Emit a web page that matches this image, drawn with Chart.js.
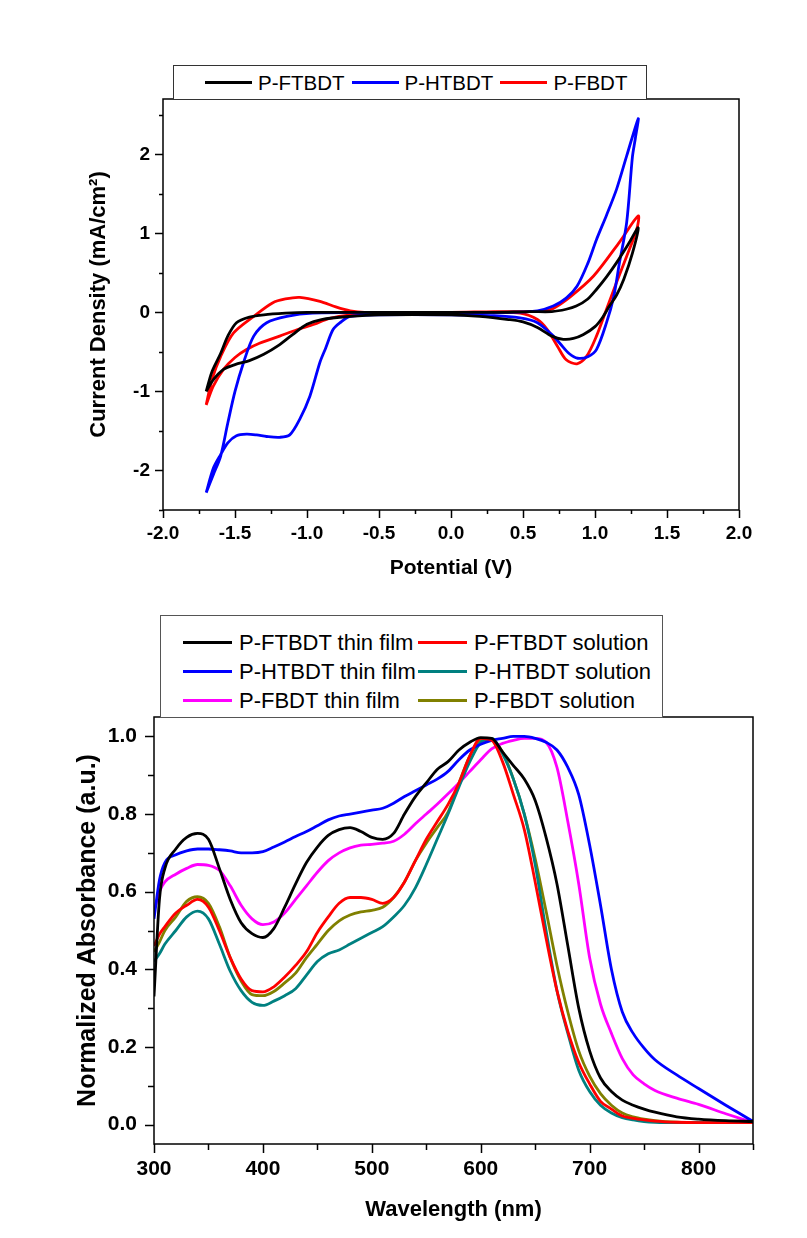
<!DOCTYPE html>
<html>
<head>
<meta charset="utf-8">
<script src="https://cdn.jsdelivr.net/npm/chart.js@4.4.1/dist/chart.umd.min.js"></script>
<style>
    body { margin: 0; background: #fff; font-family: 'Liberation Sans', Arial, sans-serif; }
    #wrap { position: relative; width: 807px; height: 1238px; overflow: hidden; }
    canvas { position: absolute; left: 0; }
    #cvChart { top: 0; }
    #absChart { top: 600px; }
    .legend { position: absolute; box-sizing: border-box; background: #fff; color: #000; z-index: 2; }
    #cvLegend { left: 173px; top: 65px; width: 474px; height: 35px; border: 1px solid #333;
        display: flex; align-items: center; padding-left: 31px; font-size: 20.5px; }
    #cvLegend .item { display: flex; align-items: center; margin-right: 7px; }
    #cvLegend .line { width: 47px; height: 3px; margin-right: 6px; }
    #absLegend { left: 160px; top: 615px; width: 503px; height: 103px; border: 1px solid #555;
        display: grid; grid-template-columns: 235px auto; grid-auto-rows: 29px;
        padding: 12px 0 0 22px; font-size: 22px; }
    #absLegend .item { display: flex; align-items: center; }
    #absLegend .line { width: 49px; height: 2.5px; margin-right: 7px; }
</style>
</head>
<body>
<div id="wrap">
    <canvas id="cvChart" width="807" height="600"></canvas>
    <canvas id="absChart" width="807" height="638"></canvas>
    <div id="cvLegend" class="legend"></div>
    <div id="absLegend" class="legend"></div>
</div>
<script>
// ---- cyclic voltammetry (closed loops, anodic branch then return branch)
const ftbdtV = [-1.70, -1.66, -1.60, -1.55, -1.49, -1.40, -1.30, -1.15, -1.00, -0.50, 0.00, 0.30, 0.55, 0.70, 0.80, 0.87, 0.95, 1.01, 1.08, 1.15, 1.24, 1.30,
    1.26, 1.20, 1.15, 1.10, 1.05, 1.00, 0.92, 0.85, 0.78, 0.70, 0.60, 0.50, 0.40, 0.20, 0.00, -0.50, -0.70, -0.90, -1.00, -1.10, -1.20, -1.30, -1.40, -1.50, -1.58, -1.65, -1.70];
const ftbdtI = [-1.00, -0.75, -0.52, -0.30, -0.13, -0.06, -0.03, -0.01, 0.00, 0.00, 0.00, 0.00, 0.01, 0.01, 0.04, 0.08, 0.17, 0.29, 0.45, 0.63, 0.89, 1.07,
    0.75, 0.42, 0.22, 0.08, -0.07, -0.18, -0.28, -0.33, -0.34, -0.30, -0.19, -0.12, -0.09, -0.05, -0.03, -0.03, -0.05, -0.09, -0.15, -0.28, -0.42, -0.53, -0.61, -0.66, -0.72, -0.85, -1.00];

const htbdtV = [-1.70, -1.65, -1.60, -1.55, -1.50, -1.44, -1.37, -1.28, -1.14, -0.96, -0.50, 0.00, 0.40, 0.60, 0.71, 0.80, 0.875, 0.95, 1.01, 1.08, 1.15, 1.22, 1.30,
    1.28, 1.26, 1.22, 1.17, 1.13, 1.08, 1.01, 0.95, 0.88, 0.82, 0.76, 0.70, 0.60, 0.48, 0.30, 0.00, -0.50, -0.70, -0.77, -0.82, -0.87, -0.91, -0.98, -1.05, -1.12, -1.19, -1.28, -1.35, -1.42, -1.49, -1.55, -1.60, -1.65, -1.70];
const htbdtI = [-2.28, -2.05, -1.82, -1.40, -1.00, -0.63, -0.30, -0.13, -0.05, -0.01, 0.00, 0.00, 0.00, 0.02, 0.08, 0.18, 0.33, 0.62, 0.92, 1.23, 1.56, 1.98, 2.45,
    2.20, 1.97, 1.14, 0.63, 0.20, -0.13, -0.47, -0.56, -0.58, -0.52, -0.40, -0.28, -0.13, -0.07, -0.04, -0.03, -0.03, -0.05, -0.13, -0.22, -0.45, -0.63, -1.06, -1.35, -1.55, -1.58, -1.57, -1.55, -1.54, -1.56, -1.65, -1.80, -1.97, -2.28];

const fbdtV = [-1.70, -1.66, -1.60, -1.51, -1.37, -1.24, -1.15, -1.05, -0.91, -0.80, -0.70, -0.60, 0.00, 0.30, 0.55, 0.65, 0.71, 0.83, 0.99, 1.17, 1.30,
    1.29, 1.22, 1.15, 1.08, 1.01, 0.94, 0.875, 0.80, 0.74, 0.67, 0.60, 0.48, 0.30, 0.00, -0.50, -0.70, -0.85, -0.95, -1.07, -1.19, -1.33, -1.42, -1.50, -1.58, -1.65, -1.70];
const fbdtI = [-1.17, -0.85, -0.56, -0.26, -0.05, 0.12, 0.17, 0.19, 0.14, 0.07, 0.02, 0.00, 0.00, 0.01, 0.01, 0.02, 0.05, 0.20, 0.46, 0.89, 1.22,
    1.05, 0.71, 0.38, 0.04, -0.30, -0.56, -0.65, -0.60, -0.43, -0.22, -0.09, -0.01, 0.00, 0.00, -0.01, -0.03, -0.08, -0.15, -0.22, -0.30, -0.39, -0.47, -0.57, -0.72, -0.93, -1.17];

const cvXTicks = [-2.0, -1.5, -1.0, -0.5, 0.0, 0.5, 1.0, 1.5, 2.0];
const cvXMinor = [-1.75, -1.25, -0.75, -0.25, 0.25, 0.75, 1.25, 1.75];
const cvYTicks = [-2, -1, 0, 1, 2];
const cvYMinor = [-2.5, -1.5, -0.5, 0.5, 1.5, 2.5];

// ---- UV-vis absorption, normalized
const wavelength = [300, 305, 310, 320, 330, 340, 350, 360, 370, 380, 390, 400, 410, 420, 430, 440, 450, 460, 470, 480, 490, 500,
    510, 520, 530, 540, 550, 560, 570, 580, 590, 600, 610, 620, 630, 640, 650, 660, 670, 680, 690, 700, 710, 720, 730, 740, 750, 760, 780, 800, 825, 850];
const ftbdtFilm = [0.33, 0.58, 0.66, 0.71, 0.74, 0.75, 0.735, 0.66, 0.58, 0.52, 0.492, 0.482, 0.505, 0.56, 0.62, 0.675, 0.715, 0.745, 0.76, 0.765, 0.755, 0.74,
    0.735, 0.75, 0.80, 0.845, 0.88, 0.915, 0.935, 0.965, 0.985, 0.997, 0.995, 0.96, 0.925, 0.89, 0.835, 0.74, 0.62, 0.46, 0.30, 0.19, 0.12, 0.085, 0.063, 0.05, 0.04, 0.032, 0.02, 0.014, 0.01, 0.008];
const ftbdtSol = [0.46, 0.49, 0.51, 0.545, 0.565, 0.58, 0.56, 0.50, 0.43, 0.375, 0.345, 0.342, 0.355, 0.38, 0.41, 0.445, 0.495, 0.535, 0.57, 0.585, 0.585, 0.58,
    0.57, 0.585, 0.625, 0.68, 0.735, 0.78, 0.825, 0.88, 0.95, 0.995, 0.99, 0.935, 0.85, 0.76, 0.625, 0.48, 0.345, 0.24, 0.16, 0.105, 0.06, 0.04, 0.022, 0.016, 0.012, 0.009, 0.006, 0.005, 0.005, 0.005];
const htbdtFilm = [0.53, 0.63, 0.675, 0.695, 0.705, 0.71, 0.71, 0.708, 0.705, 0.70, 0.70, 0.703, 0.715, 0.728, 0.742, 0.755, 0.77, 0.785, 0.795, 0.80, 0.805, 0.81,
    0.815, 0.828, 0.845, 0.86, 0.875, 0.89, 0.91, 0.94, 0.965, 0.98, 0.99, 0.995, 1.0, 1.0, 0.995, 0.985, 0.965, 0.92, 0.85, 0.72, 0.565, 0.40, 0.29, 0.235, 0.197, 0.167, 0.128, 0.093, 0.05, 0.008];
const htbdtSol = [0.42, 0.44, 0.465, 0.50, 0.535, 0.55, 0.53, 0.465, 0.395, 0.345, 0.315, 0.307, 0.318, 0.332, 0.35, 0.385, 0.42, 0.44, 0.45, 0.465, 0.48, 0.495,
    0.51, 0.535, 0.565, 0.61, 0.67, 0.735, 0.80, 0.87, 0.935, 0.985, 0.995, 0.955, 0.89, 0.80, 0.67, 0.50, 0.345, 0.235, 0.14, 0.085, 0.05, 0.03, 0.018, 0.012, 0.008, 0.006, 0.005, 0.005, 0.005, 0.005];
const fbdtFilm = [0.55, 0.60, 0.625, 0.645, 0.66, 0.67, 0.668, 0.655, 0.615, 0.565, 0.53, 0.515, 0.522, 0.545, 0.58, 0.615, 0.65, 0.68, 0.70, 0.713, 0.72, 0.722,
    0.725, 0.73, 0.748, 0.775, 0.80, 0.825, 0.852, 0.88, 0.91, 0.94, 0.968, 0.982, 0.99, 0.995, 0.995, 0.985, 0.92, 0.78, 0.62, 0.43, 0.31, 0.235, 0.17, 0.128, 0.105, 0.088, 0.068, 0.052, 0.028, 0.005];
const fbdtSol = [0.445, 0.47, 0.50, 0.535, 0.575, 0.587, 0.57, 0.51, 0.43, 0.37, 0.335, 0.332, 0.343, 0.365, 0.39, 0.43, 0.465, 0.50, 0.525, 0.54, 0.548, 0.552,
    0.56, 0.585, 0.625, 0.68, 0.725, 0.765, 0.805, 0.88, 0.95, 0.99, 0.99, 0.96, 0.89, 0.80, 0.685, 0.55, 0.41, 0.29, 0.19, 0.125, 0.08, 0.05, 0.03, 0.02, 0.014, 0.01, 0.006, 0.005, 0.008, 0.01];

const absXTicks = [300, 400, 500, 600, 700, 800];
const absXMinor = [350, 450, 550, 650, 750, 850];
const absYTicks = [0.0, 0.2, 0.4, 0.6, 0.8, 1.0];
const absYMinor = [0.1, 0.3, 0.5, 0.7, 0.9];

const FONT = "'Liberation Sans', Arial, sans-serif";
Chart.defaults.color = '#000';
Chart.defaults.font.family = FONT;

const toPoints = (xs, ys) => xs.map((x, i) => ({x: x, y: ys[i]}));

// box around the plot area plus outward major/minor ticks on the left and bottom axes
const frameTicks = {
    id: 'frameTicks',
    afterDraw(chart, args, opts) {
        const {ctx, chartArea: a, scales} = chart;
        ctx.save();
        ctx.strokeStyle = '#000';
        ctx.lineWidth = 1.5;
        ctx.strokeRect(a.left, a.top, a.right - a.left, a.bottom - a.top);
        ctx.beginPath();
        const xTick = (v, len) => {
            const p = Math.round(scales.x.getPixelForValue(v)) + 0.5;
            ctx.moveTo(p, a.bottom); ctx.lineTo(p, a.bottom + len);
        };
        const yTick = (v, len) => {
            const p = Math.round(scales.y.getPixelForValue(v)) + 0.5;
            ctx.moveTo(a.left, p); ctx.lineTo(a.left - len, p);
        };
        opts.xMajor.forEach(v => xTick(v, opts.major));
        opts.xMinor.forEach(v => xTick(v, opts.minor));
        opts.yMajor.forEach(v => yTick(v, opts.major));
        opts.yMinor.forEach(v => yTick(v, opts.minor));
        ctx.stroke();
        ctx.restore();
    }
};

// legend as html boxes, filled from the chart's own datasets
function htmlLegend(chart, el) {
    chart.data.datasets.forEach(ds => {
        const item = document.createElement('div');
        item.className = 'item';
        const line = document.createElement('span');
        line.className = 'line';
        line.style.background = ds.borderColor;
        const txt = document.createElement('span');
        txt.textContent = ds.label;
        item.appendChild(line);
        item.appendChild(txt);
        el.appendChild(item);
    });
}

const cvConfig = {
    type: 'scatter',
    data: {
        datasets: [
            {label: 'P-FTBDT', data: toPoints(ftbdtV, ftbdtI), borderColor: '#000000'},
            {label: 'P-HTBDT', data: toPoints(htbdtV, htbdtI), borderColor: '#0000ff'},
            {label: 'P-FBDT', data: toPoints(fbdtV, fbdtI), borderColor: '#ff0000'},
        ].map(ds => Object.assign(ds, {showLine: true, borderWidth: 2.8, pointRadius: 0, tension: 0.3}))
    },
    options: {
        responsive: false,
        animation: false,
        devicePixelRatio: 1,
        layout: {padding: {left: 84, top: 99, right: 68, bottom: 19}},
        plugins: {
            legend: {display: false},
            tooltip: {enabled: false},
            frameTicks: {xMajor: cvXTicks, xMinor: cvXMinor, yMajor: cvYTicks, yMinor: cvYMinor, major: 8, minor: 4}
        },
        scales: {
            x: {
                type: 'linear', min: -2.0, max: 2.0,
                afterBuildTicks: s => { s.ticks = cvXTicks.map(v => ({value: v})); },
                afterFit: s => { s.height = 71; },
                grid: {display: false, drawTicks: false},
                border: {display: false},
                ticks: {padding: 12, font: {size: 19, weight: 'bold'}, callback: v => v.toFixed(1)},
                title: {display: true, text: 'Potential (V)', font: {size: 21, weight: 'bold'}, padding: {top: 0, bottom: 0}}
            },
            y: {
                type: 'linear', min: -2.5, max: 2.7,
                afterBuildTicks: s => { s.ticks = cvYTicks.map(v => ({value: v})); },
                afterFit: s => { s.width = 79; },
                grid: {display: false, drawTicks: false},
                border: {display: false},
                ticks: {padding: 13, font: {size: 19, weight: 'bold'}, callback: v => String(v)},
                title: {display: true, text: 'Current Density (mA/cm²)', font: {size: 22, weight: 'bold'}, padding: {top: 2, bottom: 0}}
            }
        }
    },
    plugins: [frameTicks]
};

const absConfig = {
    type: 'line',
    data: {
        datasets: [
            {label: 'P-FTBDT thin film', data: toPoints(wavelength, ftbdtFilm), borderColor: '#000000'},
            {label: 'P-FTBDT solution', data: toPoints(wavelength, ftbdtSol), borderColor: '#ff0000'},
            {label: 'P-HTBDT thin film', data: toPoints(wavelength, htbdtFilm), borderColor: '#0000ff'},
            {label: 'P-HTBDT solution', data: toPoints(wavelength, htbdtSol), borderColor: '#008080'},
            {label: 'P-FBDT thin film', data: toPoints(wavelength, fbdtFilm), borderColor: '#ff00ff'},
            {label: 'P-FBDT solution', data: toPoints(wavelength, fbdtSol), borderColor: '#808000'},
        ].map(ds => Object.assign(ds, {borderWidth: 2.8, pointRadius: 0, cubicInterpolationMode: 'monotone', fill: false}))
    },
    options: {
        responsive: false,
        animation: false,
        devicePixelRatio: 1,
        layout: {padding: {left: 71, top: 117, right: 54, bottom: 15}},
        plugins: {
            legend: {display: false},
            tooltip: {enabled: false},
            frameTicks: {xMajor: absXTicks, xMinor: absXMinor, yMajor: absYTicks, yMinor: absYMinor, major: 9, minor: 6}
        },
        scales: {
            x: {
                type: 'linear', min: 300, max: 850,
                afterBuildTicks: s => { s.ticks = absXTicks.map(v => ({value: v})); },
                afterFit: s => { s.height = 79; },
                grid: {display: false, drawTicks: false},
                border: {display: false},
                ticks: {padding: 13, font: {size: 21, weight: 'bold'}, callback: v => String(v)},
                title: {display: true, text: 'Wavelength (nm)', font: {size: 22, weight: 'bold'}, padding: {top: 0, bottom: 0}}
            },
            y: {
                type: 'linear', min: -0.05, max: 1.05,
                afterBuildTicks: s => { s.ticks = absYTicks.map(v => ({value: v})); },
                afterFit: s => { s.width = 83; },
                grid: {display: false, drawTicks: false},
                border: {display: false},
                ticks: {padding: 17, font: {size: 21, weight: 'bold'}, callback: v => v.toFixed(1)},
                title: {display: true, text: 'Normalized Absorbance (a.u.)', font: {size: 25, weight: 'bold'}, padding: {top: 2, bottom: 0}}
            }
        }
    },
    plugins: [frameTicks]
};

const cvChart = new Chart(document.getElementById('cvChart'), cvConfig);
const absChart = new Chart(document.getElementById('absChart'), absConfig);

htmlLegend(cvChart, document.getElementById('cvLegend'));
htmlLegend(absChart, document.getElementById('absLegend'));
</script>
</body>
</html>
